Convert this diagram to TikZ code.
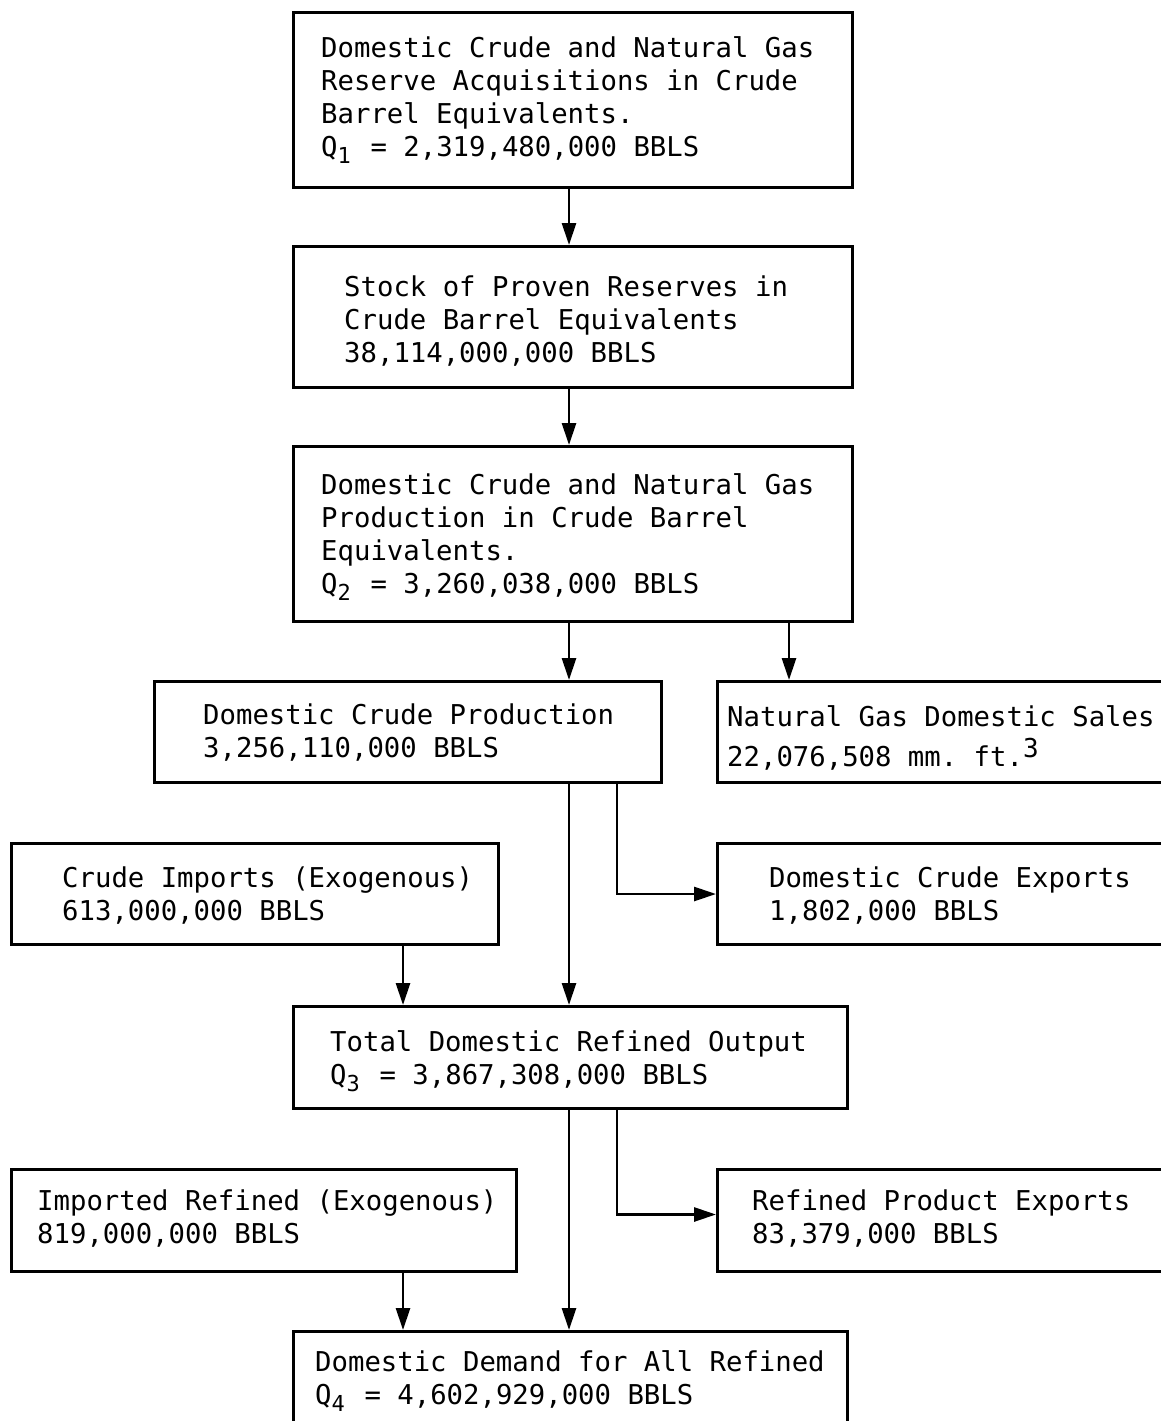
\documentclass[tikz,border=0pt]{standalone}
\usepackage{fontspec}
\setmonofont{DejaVu Sans Mono}
\usetikzlibrary{arrows.meta}
\newcommand\mysub[1]{\makebox[16.5pt][l]{\raisebox{-7pt}{\fontsize{22}{22}\selectfont #1}}}
\newcommand\mysup[1]{\raisebox{9pt}{\fontsize{26}{26}\selectfont #1}}
\tikzset{
  box/.style={draw, line width=3pt, rectangle, anchor=north west, inner sep=0pt},
  txt/.style={anchor=north west, inner sep=0pt, align=left,
    font=\fontsize{27.3}{33}\selectfont\ttfamily},
  arr/.style={line width=2.8pt, -{Triangle[length=22pt,width=14pt]}},
}
\begin{document}
\begin{tikzpicture}[x={(1pt,0)}, y={(0,-1pt)}]
\useasboundingbox (0,0) rectangle (1161,1421);
\clip (0,0) rectangle (1161,1421);
\fill[white] (0,0) rectangle (1161,1421);
% column coordinates
\coordinate (colA) at (569,0);
\coordinate (colB) at (617,0);
\coordinate (colC) at (789,0);
\coordinate (colD) at (403,0);
% boxes
\node[box, minimum width=559pt, minimum height=175pt] (b1) at (292,11) {};
\node[box, minimum width=559pt, minimum height=141pt] (b2) at (292,245) {};
\node[box, minimum width=559pt, minimum height=175pt] (b3) at (292,445) {};
\node[box, minimum width=507pt, minimum height=101pt] (b4) at (153,680) {};
\node[box, minimum width=470pt, minimum height=101pt] (b5) at (716,680) {};
\node[box, minimum width=487pt, minimum height=101pt] (b6) at (10,842) {};
\node[box, minimum width=470pt, minimum height=101pt] (b7) at (716,842) {};
\node[box, minimum width=554pt, minimum height=102pt] (b8) at (292,1005) {};
\node[box, minimum width=505pt, minimum height=102pt] (b9) at (10,1168) {};
\node[box, minimum width=470pt, minimum height=102pt] (b10) at (716,1168) {};
\node[box, minimum width=554pt, minimum height=115pt] (b11) at (292,1330) {};
% texts
\node[txt] (t1) at (321,34.5) {\strut Domestic Crude and Natural Gas\\\strut Reserve Acquisitions in Crude\\\strut Barrel Equivalents.\\\strut Q\mysub{1} = 2,319,480,000 BBLS};
\node[txt] (t2) at (344,273.5) {\strut Stock of Proven Reserves in\\\strut Crude Barrel Equivalents\\\strut 38,114,000,000 BBLS};
\node[txt] (t3) at (321,471.5) {\strut Domestic Crude and Natural Gas\\\strut Production in Crude Barrel\\\strut Equivalents.\\\strut Q\mysub{2} = 3,260,038,000 BBLS};
\node[txt] (t4) at (203,701.5) {\strut Domestic Crude Production\\\strut 3,256,110,000 BBLS};
\node[txt] (t5) at (727,703.5) {\strut Natural Gas Domestic Sales\\\strut 22,076,508 mm. ft.\mysup{3}};
\node[txt] (t6) at (62,864.5) {\strut Crude Imports (Exogenous)\\\strut 613,000,000 BBLS};
\node[txt] (t7) at (769,864.5) {\strut Domestic Crude Exports\\\strut 1,802,000 BBLS};
\node[txt] (t8) at (330,1028.5) {\strut Total Domestic Refined Output\\\strut Q\mysub{3} = 3,867,308,000 BBLS};
\node[txt] (t9) at (37,1187.5) {\strut Imported Refined (Exogenous)\\\strut 819,000,000 BBLS};
\node[txt] (t10) at (752,1187.5) {\strut Refined Product Exports\\\strut 83,379,000 BBLS};
\node[txt] (t11) at (315,1348.5) {\strut Domestic Demand for All Refined\\\strut Q\mysub{4} = 4,602,929,000 BBLS};
% connectors
\draw[arr] (b1.south -| colA) -- (b2.north -| colA);
\draw[arr] (b2.south -| colA) -- (b3.north -| colA);
\draw[arr] (b3.south -| colA) -- (b4.north -| colA);
\draw[arr] (b3.south -| colC) -- (b5.north -| colC);
\draw[arr] (b4.south -| colA) -- (b8.north -| colA);
\draw[arr] (b4.south -| colB) |- (b7.west);
\draw[arr] (b6.south -| colD) -- (b8.north -| colD);
\draw[arr] (b8.south -| colA) -- (b11.north -| colA);
\draw[arr] (b8.south -| colB) |- ([yshift=6pt]b10.west);
\draw[arr] (b9.south -| colD) -- (b11.north -| colD);
\end{tikzpicture}
\end{document}
